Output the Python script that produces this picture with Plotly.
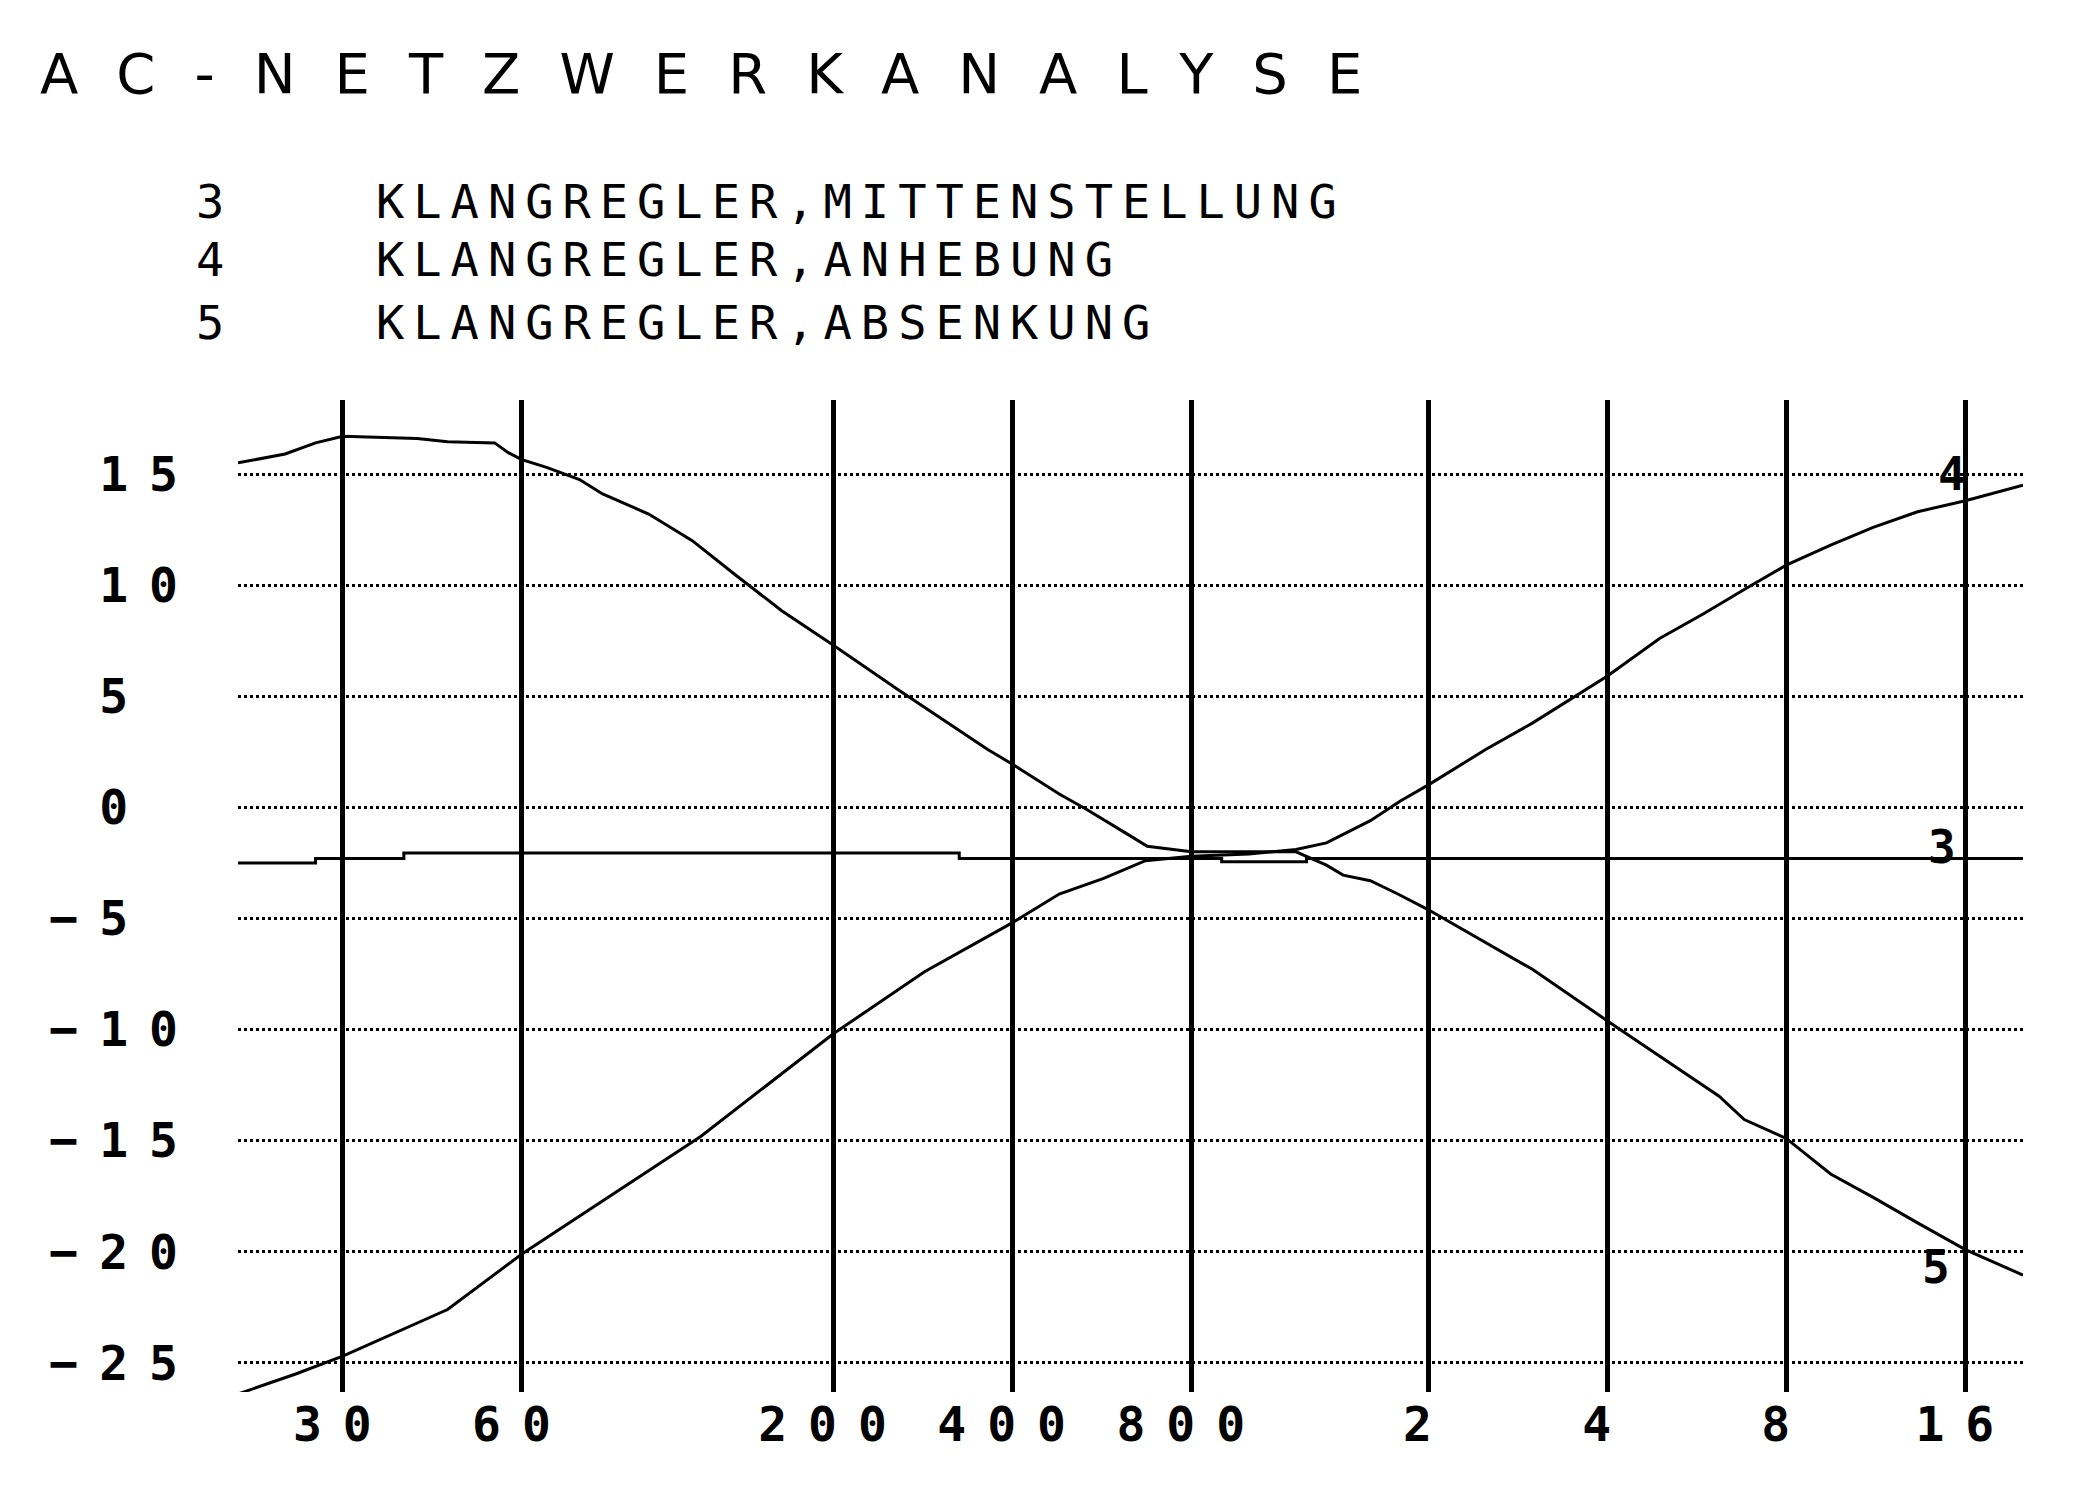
import math
import plotly.graph_objects as go

# ---------------- data ----------------
# curve 4: KLANGREGLER, ANHEBUNG
freq_anhebung = [20, 25, 30, 45, 60, 90, 120, 200, 285, 400, 480, 570, 670, 800,
                 1000, 1200, 1350, 1600, 1800, 2000, 2500, 3000, 4000, 4900, 5800,
                 6800, 8000, 9500, 11200, 13300, 16000, 20000]
db_anhebung = [-26.4, -25.5, -24.7, -22.6, -20.1, -17.0, -14.8, -10.2, -7.4, -5.2, -3.9,
               -3.2, -2.4, -2.2, -2.1, -1.9, -1.6, -0.6, 0.3, 1.0, 2.6, 3.8, 5.9, 7.6,
               8.7, 9.8, 10.9, 11.8, 12.6, 13.3, 13.8, 14.5]

# curve 5: KLANGREGLER, ABSENKUNG
freq_absenkung = [20, 24, 27, 30, 40, 45, 54, 57, 60, 66, 75, 82, 98, 116, 138, 164, 200,
                  257, 364, 400, 480, 534, 620, 675, 800, 1000, 1200, 1350, 1440, 1600,
                  1780, 2000, 3000, 4000, 6170, 6800, 8000, 9500, 11200, 13300, 14900,
                  16000, 20000]
db_absenkung = [15.5, 15.9, 16.4, 16.7, 16.6, 16.45, 16.4, 15.95, 15.65, 15.3, 14.75, 14.1,
                13.2, 12.0, 10.4, 8.85, 7.3, 5.3, 2.6, 1.95, 0.6, -0.1, -1.15, -1.75, -2.0,
                -2.0, -2.0, -2.6, -3.05, -3.3, -3.9, -4.6, -7.3, -9.6, -13.0, -14.05,
                -14.9, -16.5, -17.55, -18.7, -19.45, -19.9, -21.05]

# curve 3: KLANGREGLER, MITTENSTELLUNG (stepped)
freq_mitte = [20, 27, 38, 326, 900, 1250, 20000]
db_mitte = [-2.5, -2.3, -2.05, -2.3, -2.45, -2.3, -2.3]

x_tickvals = [30, 60, 200, 400, 800, 2000, 4000, 8000, 16000]
x_ticktext = ["30", "60", "200", "400", "800", "2", "4", "8", "16"]
y_tickvals = [15, 10, 5, 0, -5, -10, -15, -20, -25]
y_ticktext = ["15", "10", "5", "0", "\u22125", "\u221210", "\u221215", "\u221220", "\u221225"]

title_text = "AC-NETZWERKANALYSE"
legend_nums = ["3", "4", "5"]
legend_texts = ["KLANGREGLER,MITTENSTELLUNG", "KLANGREGLER,ANHEBUNG", "KLANGREGLER,ABSENKUNG"]
end_labels = ["4", "3", "5"]

# ---------------- layout geometry ----------------
W, H = 2073, 1493
OFF = 8  # page body margin
ML, MR, MT, MB = 230, 58, 392, 109
PW = W - ML - MR
PH = H - MT - MB


def px_x(px):
    return (px - OFF - ML) / PW


def px_y(py):
    return (H - MB - (py - OFF)) / PH


def spaced(t, ls):
    return f'<span style="letter-spacing:{ls}px">{t}</span>'


def pad_y(t):
    # keep digits left-aligned in their column (monospace figure space padding)
    digits = t.lstrip("\u2212")
    return t + ("\u2007" if len(digits) == 1 else "")


fig = go.Figure()
fig.add_trace(go.Scatter(x=freq_mitte, y=db_mitte, mode="lines", line_shape="hv",
                         line=dict(color="black", width=3), showlegend=False))
fig.add_trace(go.Scatter(x=freq_anhebung, y=db_anhebung, mode="lines",
                         line=dict(color="black", width=3), showlegend=False))
fig.add_trace(go.Scatter(x=freq_absenkung, y=db_absenkung, mode="lines",
                         line=dict(color="black", width=3), showlegend=False))

tickfont = dict(family="DejaVu Sans Mono", size=48, color="black", weight="bold")

fig.update_xaxes(type="log", range=[math.log10(20), math.log10(20000)],
                 tickvals=x_tickvals, ticktext=[spaced(t, 21) for t in x_ticktext],
                 showgrid=True, gridcolor="black", gridwidth=4.5,
                 zeroline=False, showline=False, ticks="", tickfont=tickfont,
                 ticklabelstandoff=0)
fig.update_yaxes(range=[-26.31, 18.33], tickvals=y_tickvals,
                 ticktext=[spaced(pad_y(t), 21) for t in y_ticktext],
                 showgrid=True, gridcolor="black", gridwidth=2.5, griddash="dot",
                 zeroline=False, showline=False, ticks="", tickfont=tickfont,
                 ticklabelstandoff=38)

annotations = []
annotations.append(dict(text=spaced(title_text, 39), xref="paper", yref="paper",
                        x=px_x(38), y=px_y(73), xanchor="left", yanchor="middle",
                        showarrow=False,
                        font=dict(family="DejaVu Sans", size=56, color="black")))
rows_y = [202, 259, 322]
for num, txt, ry in zip(legend_nums, legend_texts, rows_y):
    annotations.append(dict(text=num, xref="paper", yref="paper", x=px_x(194), y=px_y(ry),
                            xanchor="left", yanchor="middle", showarrow=False,
                            font=dict(family="DejaVu Sans Mono", size=47, color="black")))
    annotations.append(dict(text=spaced(txt, 9), xref="paper", yref="paper", x=px_x(374),
                            y=px_y(ry), xanchor="left", yanchor="middle", showarrow=False,
                            font=dict(family="DejaVu Sans Mono", size=47, color="black")))

end_pos = [(15200, 15.0), (14600, -1.8), (14300, -20.7)]
for lab, (fx, fy) in zip(end_labels, end_pos):
    annotations.append(dict(text=lab, xref="x", yref="y", x=math.log10(fx), y=fy,
                            xanchor="center", yanchor="middle", showarrow=False,
                            font=dict(family="DejaVu Sans Mono", size=46, color="black",
                                      weight="bold")))

fig.update_layout(width=W, height=H, margin=dict(l=ML, r=MR, t=MT, b=MB),
                  paper_bgcolor="white", plot_bgcolor="white",
                  font=dict(family="DejaVu Sans Mono", color="black"),
                  annotations=annotations, showlegend=False)

fig.write_html("out.html")
